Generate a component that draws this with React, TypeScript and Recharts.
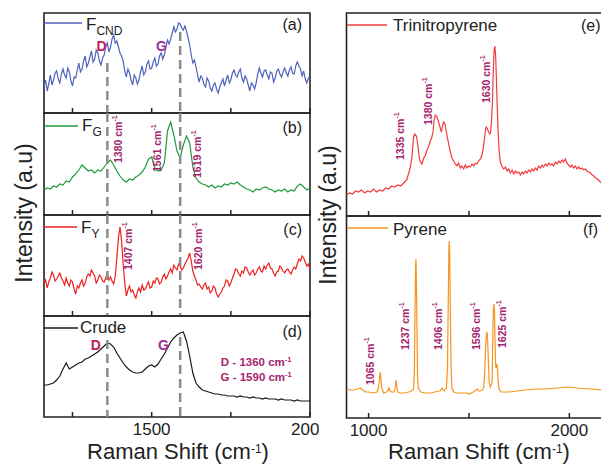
import React from 'react';
import { LineChart, Line, XAxis, YAxis, ReferenceLine, ReferenceArea, ReferenceDot } from 'recharts';

const FONT = '"Liberation Sans", Arial, Helvetica, sans-serif';

// ---------- data: left column (Raman shift, cm-1) ----------
const leftShift = [
  1160, 1170, 1180, 1190, 1200, 1210, 1220, 1230, 1240, 1250,
  1260, 1270, 1280, 1290, 1300, 1310, 1320, 1330, 1340, 1350,
  1360, 1370, 1380, 1390, 1400, 1410, 1420, 1430, 1440, 1450,
  1460, 1470, 1480, 1490, 1500, 1510, 1520, 1530, 1540, 1550,
  1560, 1570, 1580, 1590, 1600, 1610, 1620, 1630, 1640, 1650,
  1660, 1670, 1680, 1690, 1700, 1710, 1720, 1730, 1740, 1750,
  1760, 1770, 1780, 1790, 1800, 1810, 1820, 1830, 1840, 1850,
  1860, 1870, 1880, 1890, 1900, 1910, 1920, 1930, 1940, 1950,
  1960, 1970, 1980, 1990, 2000,
];
const leftShiftFine = [
  1160, 1165, 1170, 1175, 1180, 1185, 1190, 1195, 1200, 1205, 1210, 1215, 1220, 1225, 1230, 1235, 1240, 1245, 1250, 1255,
  1260, 1265, 1270, 1275, 1280, 1285, 1290, 1295, 1300, 1305, 1310, 1315, 1320, 1325, 1330, 1335, 1340, 1345, 1350, 1355,
  1360, 1365, 1370, 1375, 1380, 1385, 1390, 1395, 1400, 1405, 1410, 1415, 1420, 1425, 1430, 1435, 1440, 1445, 1450, 1455,
  1460, 1465, 1470, 1475, 1480, 1485, 1490, 1495, 1500, 1505, 1510, 1515, 1520, 1525, 1530, 1535, 1540, 1545, 1550, 1555,
  1560, 1565, 1570, 1575, 1580, 1585, 1590, 1595, 1600, 1605, 1610, 1615, 1620, 1625, 1630, 1635, 1640, 1645, 1650, 1655,
  1660, 1665, 1670, 1675, 1680, 1685, 1690, 1695, 1700, 1705, 1710, 1715, 1720, 1725, 1730, 1735, 1740, 1745, 1750, 1755,
  1760, 1765, 1770, 1775, 1780, 1785, 1790, 1795, 1800, 1805, 1810, 1815, 1820, 1825, 1830, 1835, 1840, 1845, 1850, 1855,
  1860, 1865, 1870, 1875, 1880, 1885, 1890, 1895, 1900, 1905, 1910, 1915, 1920, 1925, 1930, 1935, 1940, 1945, 1950, 1955,
  1960, 1965, 1970, 1975, 1980, 1985, 1990, 1995, 2000,
];
const fcndIntensity = [
  27, 33, 22, 29, 38, 28, 33, 40, 42, 34, 30, 39, 44, 38, 35, 45, 41, 32, 27, 36,
  35, 43, 50, 41, 44, 52, 57, 46, 50, 56, 62, 51, 54, 63, 60, 52, 48, 55, 58, 66,
  70, 61, 66, 74, 78, 70, 72, 66, 60, 57, 52, 42, 36, 44, 40, 33, 28, 38, 35, 29,
  33, 41, 47, 38, 41, 49, 52, 44, 45, 51, 55, 47, 49, 57, 60, 54, 58, 66, 73, 69,
  74, 80, 86, 81, 84, 90, 89, 85, 83, 87, 82, 75, 68, 58, 50, 53, 46, 38, 31, 37,
  35, 29, 26, 35, 32, 25, 22, 28, 30, 24, 20, 26, 30, 34, 27, 33, 38, 30, 33, 40,
  43, 38, 36, 41, 44, 35, 31, 37, 34, 28, 22, 30, 28, 24, 30, 39, 45, 40, 36, 42,
  43, 38, 34, 41, 40, 31, 35, 42, 44, 39, 36, 41, 45, 40, 37, 43, 46, 40, 39, 47,
  51, 47, 44, 37, 42, 34, 30, 35, 37,
];
const fgIntensity = [
  25, 27, 26, 29, 28, 31, 30, 34, 33, 38,
  41, 45, 50, 47, 44, 45, 42, 45, 44, 48,
  52, 55, 50, 44, 39, 35, 33, 36, 35, 38,
  40, 43, 48, 56, 58, 47, 44, 45, 52, 84,
  93, 80, 64, 57, 70, 79, 72, 48, 37, 33,
  31, 30, 28, 30, 27, 29, 28, 31, 30, 32,
  31, 33, 30, 28, 26, 25, 23, 26, 25, 27,
  28, 26, 25, 23, 25, 24, 26, 23, 25, 24,
  29, 31, 28, 25, 27,
];
const fyIntensity = [
  32, 36, 28, 34, 38, 44, 41, 35, 37, 40, 43, 38, 35, 31, 38, 33, 30, 36, 34, 27,
  22, 30, 28, 33, 36, 30, 33, 39, 42, 40, 46, 43, 40, 33, 36, 41, 39, 35, 34, 38,
  42, 36, 39, 35, 32, 40, 58, 78, 89, 75, 52, 33, 20, 26, 30, 24, 26, 21, 18, 24,
  28, 24, 31, 26, 27, 31, 34, 28, 29, 35, 33, 38, 37, 32, 34, 39, 42, 37, 40, 44,
  47, 43, 51, 48, 46, 52, 50, 46, 48, 52, 55, 58, 63, 55, 45, 40, 36, 31, 32, 29,
  27, 31, 33, 27, 29, 23, 25, 30, 28, 22, 19, 22, 24, 28, 30, 36, 35, 30, 33, 38,
  42, 47, 46, 42, 40, 45, 43, 49, 48, 44, 41, 44, 46, 41, 43, 47, 49, 45, 44, 50,
  47, 51, 53, 48, 47, 43, 40, 44, 45, 50, 48, 45, 43, 46, 47, 44, 42, 46, 49, 47,
  52, 57, 55, 60, 58, 54, 50, 52, 46,
];
const crudeIntensity = [
  32, 32, 33, 34, 37, 41, 48, 54, 48, 50,
  52, 54, 55, 58, 59, 61, 63, 65, 68, 71,
  74, 73, 70, 64, 59, 54, 50, 47, 45, 44,
  44, 45, 48, 51, 52, 50, 53, 58, 63, 69,
  75, 79, 82, 84, 85, 76, 61, 44, 34, 30,
  27, 26, 25, 24, 23, 23, 22, 22, 21, 21,
  21, 20, 21, 20, 20, 19, 20, 19, 19, 18,
  19, 18, 18, 18, 17, 18, 17, 17, 17, 16,
  17, 16, 16, 16, 16,
];

// ---------- data: right column ----------
const triShift = [
  890, 905, 920, 935, 950, 965, 980, 995, 1010, 1025, 1040, 1055, 1070, 1085, 1100, 1115, 1130, 1145, 1160, 1175,
  1190, 1200, 1208, 1216, 1224, 1230, 1238, 1244, 1250, 1256, 1266, 1274, 1282, 1291, 1300, 1307, 1314, 1321, 1326, 1332,
  1338, 1344, 1350, 1357, 1363, 1368, 1374, 1380, 1386, 1391, 1398, 1404, 1410, 1415, 1424, 1432, 1440, 1448, 1457, 1465,
  1474, 1482, 1490, 1499, 1507, 1515, 1524, 1532, 1540, 1548, 1557, 1565, 1571, 1577, 1582, 1586, 1592, 1598, 1603, 1608,
  1612, 1617, 1621, 1625, 1629, 1633, 1637, 1641, 1645, 1650, 1656, 1664, 1673, 1682, 1690, 1698, 1706, 1715, 1723, 1731,
  1739, 1748, 1756, 1764, 1772, 1781, 1789, 1797, 1806, 1814, 1822, 1831, 1839, 1847, 1856, 1864, 1872, 1881, 1889, 1897,
  1905, 1914, 1922, 1930, 1939, 1947, 1955, 1964, 1972, 1980, 1988, 1996, 2005, 2013, 2021, 2030, 2038, 2046, 2055, 2063,
  2072, 2080, 2088, 2097, 2105, 2114, 2122, 2130, 2139, 2150, 2160, 2175, 2190, 2200,
];
const triIntensity = [
  21, 23, 22, 25, 24, 26, 23, 25, 24, 27, 24, 26, 25, 28, 27, 30, 29, 31, 30, 33,
  36, 43, 49, 59, 79, 82, 80, 73, 62, 55, 52, 58, 60, 66, 70, 75, 78, 84, 95, 101,
  100, 97, 93, 88, 84, 90, 94, 92, 86, 80, 73, 67, 62, 58, 55, 52, 50, 53, 48, 50,
  47, 51, 48, 50, 49, 52, 50, 53, 52, 55, 57, 61, 68, 77, 86, 89, 87, 84, 82, 84,
  94, 115, 145, 165, 170, 160, 135, 108, 85, 66, 54, 50, 47, 49, 45, 47, 43, 46, 42, 45,
  43, 44, 41, 44, 42, 45, 43, 46, 44, 47, 45, 48, 46, 50, 48, 51, 49, 52, 50, 53,
  51, 52, 50, 54, 52, 55, 53, 56, 54, 57, 53, 51, 49, 51, 48, 50, 47, 49, 47, 48,
  46, 47, 45, 44, 43, 41, 40, 38, 37, 35, 33, 32, 30, 29,
];
const pyrShift = [
  890, 910, 925, 945, 959, 970, 984, 1000, 1025, 1042, 1050, 1055, 1058, 1061, 1066, 1075, 1090, 1098, 1102, 1106,
  1115, 1128, 1133, 1137, 1141, 1146, 1160, 1180, 1200, 1215, 1224, 1228, 1231, 1234, 1236, 1238, 1241, 1244, 1248, 1260,
  1280, 1307, 1330, 1350, 1357, 1363, 1367, 1371, 1377, 1388, 1393, 1397, 1400, 1402, 1404, 1407, 1411, 1415, 1425, 1440,
  1460, 1480, 1490, 1500, 1510, 1523, 1535, 1543, 1550, 1557, 1566, 1573, 1578, 1583, 1587, 1590, 1593, 1597, 1601, 1606,
  1611, 1615, 1618, 1621, 1624, 1627, 1630, 1633, 1636, 1639, 1642, 1645, 1650, 1660, 1673, 1700, 1739, 1780, 1839, 1880,
  1939, 1988, 2038, 2105, 2160, 2200,
];
const pyrIntensity = [
  29, 28, 28, 29, 30, 28, 26, 26, 25, 26, 31, 40, 46, 40, 30, 25, 26, 28, 30, 27,
  26, 26, 31, 38, 31, 26, 25, 25, 26, 27, 29, 45, 100, 150, 159, 140, 90, 40, 30, 26,
  25, 25, 26, 27, 27, 29, 30, 28, 27, 30, 50, 120, 170, 177, 165, 110, 50, 30, 26, 25,
  25, 25, 25, 24, 25, 26, 28, 29, 27, 27, 28, 30, 45, 70, 84, 86, 78, 55, 35, 31,
  33, 36, 70, 105, 114, 108, 75, 52, 50, 54, 50, 38, 29, 26, 26, 26, 27, 28, 29, 29,
  30, 31, 30, 29, 28, 28,
];

// ---------- axes / annotations ----------
const leftTicks = [1250, 1500, 1750, 2000];
const leftTickLabels = [1500, 2000];
const rightTicks = [1000, 1500, 2000];
const rightTickLabels = [1000, 2000];
const dBand = 1360;
const gBand = 1590;

const fgPeaks = [
  { text: '1380', x: 1394, y: 52 },
  { text: '1561', x: 1516, y: 43 },
  { text: '1619', x: 1642, y: 37 },
];
const fyPeaks = [
  { text: '1407', x: 1426, y: 46 },
  { text: '1620', x: 1645, y: 46 },
];
const triPeaks = [
  { text: '1335', x: 1156, y: 56 },
  { text: '1380', x: 1296, y: 91 },
  { text: '1630', x: 1585, y: 113 },
];
const pyrPeaks = [
  { text: '1065', x: 1007, y: 33 },
  { text: '1237', x: 1181, y: 68 },
  { text: '1406', x: 1346, y: 68 },
  { text: '1596', x: 1535, y: 68 },
  { text: '1625', x: 1665, y: 70 },
];

const ANN = '#a5246e';
const D_COL = '#c41a5e';
const G_COL = '#9d2d9d';
const DASH = '#8c8c8c';
const FRAME = '#222';

const makeTick = (labels: number[]) => (props: any) => {
  const { x, y, payload } = props;
  return (
    <g>
      <line x1={x} x2={x} y1={y} y2={y - 5} stroke={FRAME} strokeWidth={1.5} />
      {labels.includes(payload.value) ? (
        <text x={x} y={y + 18} textAnchor="middle" fontSize={17} fill="#222" fontFamily={FONT}>
          {payload.value}
        </text>
      ) : null}
    </g>
  );
};

const peakShape = (text: string) => (props: any) => {
  const { cx, cy } = props;
  return (
    <text
      x={cx}
      y={cy}
      transform={`rotate(-90 ${cx} ${cy})`}
      dominantBaseline="central"
      fontSize={10.5}
      fontWeight={700}
      fill={ANN}
      fontFamily={FONT}
    >
      {text} cm<tspan dy={-4} fontSize={7}>-1</tspan>
    </text>
  );
};

const letterShape = (text: string, color: string) => (props: any) => {
  const { cx, cy } = props;
  return (
    <text x={cx} y={cy} textAnchor="middle" dominantBaseline="central" fontSize={14} fontWeight={700} fill={color} fontFamily={FONT}>
      {text}
    </text>
  );
};

const bandShape = (text: string) => (props: any) => {
  const { cx, cy } = props;
  return (
    <text x={cx} y={cy} textAnchor="middle" fontSize={11.5} fontWeight={700} fill={ANN} fontFamily={FONT}>
      {text} cm<tspan dy={-4} fontSize={7.5}>-1</tspan>
    </text>
  );
};

interface PanelProps {
  svgLeft: number;
  plotLeft: number;
  plotRight: number;
  plotTop: number;
  plotBottom: number;
  bottomSpace: number;
  xDomain: [number, number];
  ticks: number[];
  tickLabels: number[];
  xs: number[];
  ys: number[];
  color: string;
  name: string;
  extras?: React.ReactNode[];
}

function Panel(p: PanelProps) {
  const data = p.xs.map((x, i) => ({ x, y: p.ys[i] }));
  const h = p.plotBottom - p.plotTop;
  const mt = 3;
  const mr = 10;
  const axisH = 1;
  const width = p.plotRight - p.svgLeft + mr;
  const height = h + mt + p.bottomSpace;
  return (
    <div style={{ position: 'absolute', left: p.svgLeft, top: p.plotTop - mt }}>
      <LineChart
        width={width}
        height={height}
        data={data}
        margin={{ top: mt, right: mr, bottom: p.bottomSpace - axisH, left: p.plotLeft - p.svgLeft }}
      >
        <XAxis
          dataKey="x"
          type="number"
          domain={p.xDomain}
          allowDataOverflow
          ticks={p.ticks}
          interval={0}
          height={axisH}
          axisLine={false}
          tickLine={false}
          tickSize={0}
          tickMargin={0}
          tick={makeTick(p.tickLabels)}
        />
        <YAxis type="number" domain={[0, h]} hide allowDataOverflow />
        <Line
          dataKey="y"
          name={p.name}
          stroke={p.color}
          strokeWidth={1.2}
          dot={false}
          activeDot={false}
          isAnimationActive={false}
        />
        {p.extras}
        <ReferenceArea
          x1={p.xDomain[0]}
          x2={p.xDomain[1]}
          y1={0}
          y2={h}
          fill="none"
          fillOpacity={0}
          stroke={FRAME}
          strokeWidth={1.6}
          ifOverflow="visible"
        />
      </LineChart>
    </div>
  );
}

const dashLine = (key: string, x: number, top: number) => (
  <ReferenceLine
    key={key}
    segment={[{ x, y: top }, { x, y: 0 }]}
    stroke={DASH}
    strokeWidth={2.5}
    strokeDasharray="9 5"
    ifOverflow="visible"
  />
);

const peakDots = (list: { text: string; x: number; y: number }[], prefix: string) =>
  list.map((a, i) => (
    <ReferenceDot key={`${prefix}${i}`} x={a.x} y={a.y} r={1} fill="none" stroke="none" shape={peakShape(a.text)} ifOverflow="visible" />
  ));

export default function App() {
  const L = { svgLeft: 0, plotLeft: 44, plotRight: 310, xDomain: [1160, 2000] as [number, number], ticks: leftTicks };
  const R = { svgLeft: 300, plotLeft: 346.5, plotRight: 611.5, xDomain: [890, 2210] as [number, number], ticks: rightTicks };
  const txt = { fontFamily: FONT, fill: '#222' };
  return (
    <div style={{ position: 'absolute', left: 0, top: 0, width: 601, height: 465, overflow: 'hidden', background: '#fff', fontFamily: FONT }}>
      <div style={{ position: 'absolute', left: 0, top: 0, width: 319, height: 465, overflow: 'hidden' }}>
        <Panel {...L} plotTop={13} plotBottom={113} bottomSpace={3} tickLabels={[]} xs={leftShiftFine} ys={fcndIntensity} color="#4f62bd" name="FCND"
          extras={[
            dashLine('d', dBand, 50),
            dashLine('g', gBand, 81),
            <ReferenceDot key="la" x={1342} y={67} r={1} fill="none" stroke="none" shape={letterShape('D', D_COL)} ifOverflow="visible" />,
            <ReferenceDot key="lb" x={1531} y={67} r={1} fill="none" stroke="none" shape={letterShape('G', G_COL)} ifOverflow="visible" />,
          ]}
        />
        <Panel {...L} plotTop={113} plotBottom={215} bottomSpace={3} tickLabels={[]} xs={leftShift} ys={fgIntensity} color="#1f9a3f" name="FG"
          extras={[dashLine('d', dBand, 102), dashLine('g', gBand, 102), ...peakDots(fgPeaks, 'b')]}
        />
        <Panel {...L} plotTop={215} plotBottom={316} bottomSpace={3} tickLabels={[]} xs={leftShiftFine} ys={fyIntensity} color="#ee2020" name="FY"
          extras={[dashLine('d', dBand, 101), dashLine('g', gBand, 101), ...peakDots(fyPeaks, 'c')]}
        />
        <Panel {...L} plotTop={316} plotBottom={417} bottomSpace={30} tickLabels={leftTickLabels} xs={leftShift} ys={crudeIntensity} color="#1a1a1a" name="Crude"
          extras={[
            dashLine('d', dBand, 77),
            dashLine('g', gBand, 80),
            <ReferenceDot key="ld" x={1324} y={72} r={1} fill="none" stroke="none" shape={letterShape('D', D_COL)} ifOverflow="visible" />,
            <ReferenceDot key="lg" x={1537} y={72} r={1} fill="none" stroke="none" shape={letterShape('G', G_COL)} ifOverflow="visible" />,
            <ReferenceDot key="bd" x={1830} y={51} r={1} fill="none" stroke="none" shape={bandShape('D - 1360')} ifOverflow="visible" />,
            <ReferenceDot key="bg" x={1830} y={36} r={1} fill="none" stroke="none" shape={bandShape('G - 1590')} ifOverflow="visible" />,
          ]}
        />
      </div>

      <Panel {...R} plotTop={13} plotBottom={216} bottomSpace={3} tickLabels={[]} xs={triShift} ys={triIntensity} color="#f23b3b" name="Trinitropyrene"
        extras={peakDots(triPeaks, 'e')}
      />
      <Panel {...R} plotTop={216} plotBottom={418} bottomSpace={30} tickLabels={rightTickLabels} xs={pyrShift} ys={pyrIntensity} color="#f7941e" name="Pyrene"
        extras={peakDots(pyrPeaks, 'f')}
      />

      <svg width={601} height={465} style={{ position: 'absolute', left: 0, top: 0, pointerEvents: 'none' }}>
        {/* legends */}
        <line x1={44} x2={82} y1={23} y2={23} stroke="#4f62bd" strokeWidth={1.5} />
        <text x={86} y={30} fontSize={17} {...txt}>F<tspan dy={5} fontSize={12}>CND</tspan></text>
        <line x1={44} x2={78} y1={126} y2={126} stroke="#1f9a3f" strokeWidth={1.5} />
        <text x={82} y={131} fontSize={17} {...txt}>F<tspan dy={5} fontSize={12}>G</tspan></text>
        <line x1={44} x2={77} y1={227} y2={227} stroke="#ee2020" strokeWidth={1.5} />
        <text x={81} y={233} fontSize={17} {...txt}>F<tspan dy={5} fontSize={12}>Y</tspan></text>
        <line x1={44} x2={78} y1={328} y2={328} stroke="#1a1a1a" strokeWidth={1.3} />
        <text x={80} y={333} fontSize={17} {...txt}>Crude</text>
        <line x1={347} x2={387} y1={25} y2={25} stroke="#f23b3b" strokeWidth={1.5} />
        <text x={393} y={31} fontSize={17} {...txt}>Trinitropyrene</text>
        <line x1={347} x2={388} y1={228} y2={228} stroke="#f7941e" strokeWidth={1.5} />
        <text x={393} y={235} fontSize={17} {...txt}>Pyrene</text>

        {/* panel tags */}
        <text x={302} y={30} fontSize={16} textAnchor="end" {...txt}>(a)</text>
        <text x={302} y={133} fontSize={16} textAnchor="end" {...txt}>(b)</text>
        <text x={302} y={235} fontSize={16} textAnchor="end" {...txt}>(c)</text>
        <text x={302} y={337} fontSize={16} textAnchor="end" {...txt}>(d)</text>
        <text x={581} y={31} fontSize={16} {...txt}>(e)</text>
        <text x={583} y={235} fontSize={16} {...txt}>(f)</text>

        {/* axis titles */}
        <text x={32} y={213} transform="rotate(-90 32 213)" textAnchor="middle" fontSize={23} {...txt}>Intensity (a.u)</text>
        <text x={336} y={215} transform="rotate(-90 336 215)" textAnchor="middle" fontSize={23} {...txt}>Intensity (a.u)</text>
        <text x={178} y={459} textAnchor="middle" fontSize={22} {...txt}>
          Raman Shift (cm<tspan dy={-6} fontSize={12}>-1</tspan><tspan dy={6}>)</tspan>
        </text>
        <text x={479} y={459} textAnchor="middle" fontSize={22} {...txt}>
          Raman Shift (cm<tspan dy={-6} fontSize={12}>-1</tspan><tspan dy={6}>)</tspan>
        </text>
      </svg>
    </div>
  );
}
